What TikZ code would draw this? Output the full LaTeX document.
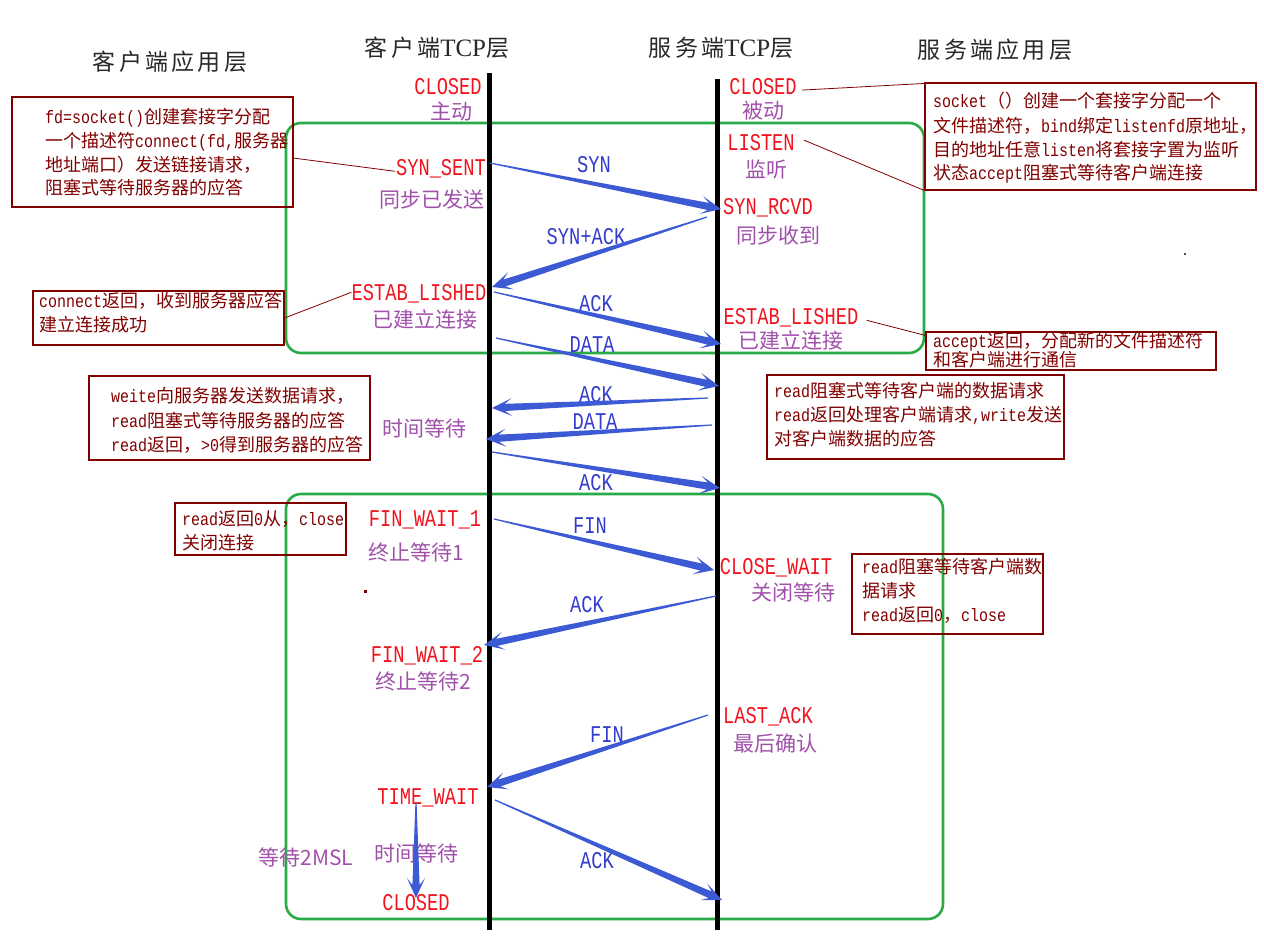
\documentclass[tikz,border=0pt]{standalone}
\usepackage{fontspec}
\setmainfont{Noto Sans CJK SC}
\newfontfamily\cjk{Noto Sans CJK SC}
\newfontfamily\titlecjk[LetterSpace=14]{Noto Sans CJK SC}
\newfontfamily\titleser{Liberation Serif}
\newfontfamily\statefont[FakeStretch=0.78]{Liberation Mono}
\newfontfamily\boxmono[FakeStretch=0.833]{Liberation Mono}
\newcommand\m[1]{{\boxmono #1}}
\usetikzlibrary{calc}
\definecolor{statered}{RGB}{240,20,30}
\definecolor{labpurple}{RGB}{160,80,170}
\definecolor{msgblue}{RGB}{50,60,205}
\definecolor{flowblue}{RGB}{60,90,212}
\definecolor{notered}{RGB}{128,0,0}
\definecolor{phasegreen}{RGB}{40,170,70}
\definecolor{titlegray}{RGB}{40,40,40}
\newcommand\flow[2]{%
  \path ($(#2)!13pt!(#1)$) coordinate (fN) ($(#2)!20pt!(#1)$) coordinate (fH);
  \fill[flowblue] ($(#1)!0.6pt!90:(#2)$) -- ($(fN)!3.6pt!90:(#2)$) -- ($(fH)!9pt!90:(#2)$) -- (#2)
    -- ($(fH)!9pt!-90:(#2)$) -- ($(fN)!3.6pt!-90:(#2)$) -- ($(#1)!0.6pt!-90:(#2)$) -- cycle;}
\begin{document}
\begin{tikzpicture}[x=1pt,y=-1pt,
  title/.style={text=titlegray, font=\titlecjk\fontsize{23}{23}\selectfont, inner sep=0, anchor=base},
  state/.style={text=statered, font=\statefont\fontsize{24}{24}\selectfont, inner sep=0, anchor=base},
  cn/.style={text=labpurple, font=\cjk\fontsize{21}{21}\selectfont, inner sep=0, anchor=base},
  msg/.style={text=msgblue, font=\statefont\fontsize{24}{24}\selectfont, inner sep=0, anchor=base},
  note/.style={draw=notered, line width=1.1pt, inner sep=0},
  notetext/.style={text=notered, font=\cjk\fontsize{18}{24}\selectfont, inner sep=0, anchor=base west},
  lead/.style={draw=notered, line width=0.8pt},
  phase/.style={draw=phasegreen, line width=2.6pt, rounded corners=15pt},
  lifeline/.style={draw=black, line width=5pt}]
\useasboundingbox (0,0) rectangle (1264,946);

% titles
\node[title] (t1) at (170,70.5) {客户端应用层};
\node[title] (t2) at (437,56.5) {客户端{\titleser\fontsize{25}{25}\selectfont TCP}层};
\node[title] (t3) at (721,56.5) {服务端{\titleser\fontsize{25}{25}\selectfont TCP}层};
\node[title] (t4) at (995,58.5) {服务端应用层};

% phase boxes
\draw[phase] (286,123) rectangle (924,353);
\draw[phase] (286,494) rectangle (943,919);

% lifelines
\coordinate (ctop) at (489,73); \coordinate (cbot) at (489,930);
\coordinate (stop) at (717,79); \coordinate (sbot) at (717,930);
\draw[lifeline] (ctop) -- (cbot);
\draw[lifeline] (stop) -- (sbot);

% client states
\node[state] (cclosed) at (448,94) {CLOSED};
\node[cn] (zhudong) at (451,119) {主动};
\node[state] (synsent) at (441,175) {SYN\_SENT};
\node[cn] (tbyfs) at (432,207) {同步已发送};
\node[state] (estab1) at (419,300) {ESTAB\_LISHED};
\node[cn] (yjl1) at (425,327) {已建立连接};
\node[cn] (sjdd1) at (424,436) {时间等待};
\node[state] (fw1) at (425,526) {FIN\_WAIT\_1};
\node[cn] (zzdd1) at (416,560) {终止等待1};
\node[state] (fw2) at (427,662) {FIN\_WAIT\_2};
\node[cn] (zzdd2) at (423,689) {终止等待2};
\node[state] (tw) at (428,804) {TIME\_WAIT};
\node[cn] (sjdd2) at (416,861) {时间等待};
\node[cn] (msl) at (306,865) {等待2MSL};
\node[state] (cclosed2) at (416,910) {CLOSED};

% server states
\node[state] (sclosed) at (763,94) {CLOSED};
\node[cn] (beidong) at (763,118) {被动};
\node[state] (listen) at (761,150) {LISTEN};
\node[cn] (jianting) at (766,177) {监听};
\node[state] (synrcvd) at (768,214) {SYN\_RCVD};
\node[cn] (tbsd) at (778,243) {同步收到};
\node[state] (estab2) at (791,324) {ESTAB\_LISHED};
\node[cn] (yjl2) at (791,348) {已建立连接};
\node[state] (closewait) at (776,574) {CLOSE\_WAIT};
\node[cn] (gbdd) at (793,600) {关闭等待};
\node[state] (lastack) at (768,723) {LAST\_ACK};
\node[cn] (zhqr) at (775,751) {最后确认};

% message labels
\node[msg] (m1) at (594,172) {SYN};
\node[msg] (m2) at (586,244) {SYN+ACK};
\node[msg] (m3) at (596,311) {ACK};
\node[msg] (m4) at (592,352) {DATA};
\node[msg] (m5) at (596,402) {ACK};
\node[msg] (m6) at (595,429) {DATA};
\node[msg] (m7) at (596,490) {ACK};
\node[msg] (m8) at (590,533) {FIN};
\node[msg] (m9) at (587,612) {ACK};
\node[msg] (m10) at (607,742) {FIN};
\node[msg] (m11) at (597,868) {ACK};

% note boxes
\node[note, minimum width=281pt, minimum height=110pt] (boxA) at (152.5,152) {};
\node[note, minimum width=331pt, minimum height=107pt] (boxB) at (1090.5,136.5) {};
\node[note, minimum width=251pt, minimum height=54pt] (boxC) at (158.5,318) {};
\node[note, minimum width=281pt, minimum height=84pt] (boxD) at (229.5,418) {};
\node[note, minimum width=290pt, minimum height=38pt] (boxE) at (1071,351) {};
\node[note, minimum width=297pt, minimum height=84pt] (boxF) at (915.5,417) {};
\node[note, minimum width=171pt, minimum height=52pt] (boxG) at (260.5,529) {};
\node[note, minimum width=191pt, minimum height=80pt] (boxH) at (947.5,594) {};

% note texts
\node[notetext] (a1) at (45,123.5) {\m{fd=socket()}创建套接字分配};
\node[notetext] (a2) at (45,147.5) {一个描述符\m{connect(fd,}服务器};
\node[notetext] (a3) at (45,171) {地址端口）发送链接请求，};
\node[notetext] (a4) at (45,194.5) {阻塞式等待服务器的应答};

\node[notetext] (b1) at (933,107.5) {\m{socket}（）创建一个套接字分配一个};
\node[notetext] (b2) at (933,132) {文件描述符，\m{bind}绑定\m{listenfd}原地址，};
\node[notetext] (b3) at (933,156) {目的地址任意\m{listen}将套接字置为监听};
\node[notetext] (b4) at (933,179.5) {状态\m{accept}阻塞式等待客户端连接};

\node[notetext] (c1) at (39,307.5) {\m{connect}返回，收到服务器应答};
\node[notetext] (c2) at (39,331.5) {建立连接成功};

\node[notetext] (d1) at (111,402.5) {\m{weite}向服务器发送数据请求，};
\node[notetext] (d2) at (111,427) {\m{read}阻塞式等待服务器的应答};
\node[notetext] (d3) at (111,451.5) {\m{read}返回，\m{>0}得到服务器的应答};

\node[notetext] (e1) at (933,347.5) {\m{accept}返回，分配新的文件描述符};
\node[notetext] (e2) at (933,366.5) {和客户端进行通信};

\node[notetext] (f1) at (774,397.5) {\m{read}阻塞式等待客户端的数据请求};
\node[notetext] (f2) at (774,421.5) {\m{read}返回处理客户端请求\m{,write}发送};
\node[notetext] (f3) at (774,445.5) {对客户端数据的应答};

\node[notetext] (g1) at (182,525.5) {\m{read}返回\m{0}从，\m{close}};
\node[notetext] (g2) at (182,549.5) {关闭连接};

\node[notetext] (h1) at (862,573.5) {\m{read}阻塞等待客户端数};
\node[notetext] (h2) at (862,597.5) {据请求};
\node[notetext] (h3) at (862,621.5) {\m{read}返回\m{0}，\m{close}};

% leader lines
\coordinate (la) at (293,158);
\draw[lead] (la) -- ($(synsent.west)+(-1,3)$);
\draw[lead] ($(sclosed.east)+(5,4)$) -- ($(boxB.north west)+(0,1)$);
\draw[lead] ($(listen.east)+(9,-2)$) -- (boxB.south west);
\draw[lead] (boxC.east) -- ($(estab1.west)+(0,-1)$);
\draw[lead] ($(estab2.east)+(8,3)$) -- ($(boxE.north west)+(0,4)$);

% tiny dots
\fill[notered] (364,590) rectangle (366.5,592.5);
\fill[black!70] (1184,253) rectangle (1186,255);

% flow arrows
\coordinate (s1) at (490,163);  \coordinate (e1) at (721,209);
\coordinate (s2) at (707,217);  \coordinate (e2) at (492,287);
\coordinate (s3) at (494,292);  \coordinate (e3) at (721,344);
\coordinate (s4) at (496,338);  \coordinate (e4) at (719,386);
\coordinate (s5) at (708,398);  \coordinate (e5) at (492,408);
\coordinate (s6) at (712,425);  \coordinate (e6) at (486,439);
\coordinate (s7) at (492,452);  \coordinate (e7) at (720,488);
\coordinate (s8) at (494,519);  \coordinate (e8) at (714,570);
\coordinate (s9) at (716,596);  \coordinate (e9) at (484,645);
\coordinate (s10) at (708,715); \coordinate (e10) at (487,787);
\coordinate (s11) at (495,800); \coordinate (e11) at (722,900);
\coordinate (s12) at (416,803); \coordinate (e12) at (416,898);
\flow{s1}{e1}
\flow{s2}{e2}
\flow{s3}{e3}
\flow{s4}{e4}
\flow{s5}{e5}
\flow{s6}{e6}
\flow{s7}{e7}
\flow{s8}{e8}
\flow{s9}{e9}
\flow{s10}{e10}
\flow{s11}{e11}
\flow{s12}{e12}
\end{tikzpicture}
\end{document}
